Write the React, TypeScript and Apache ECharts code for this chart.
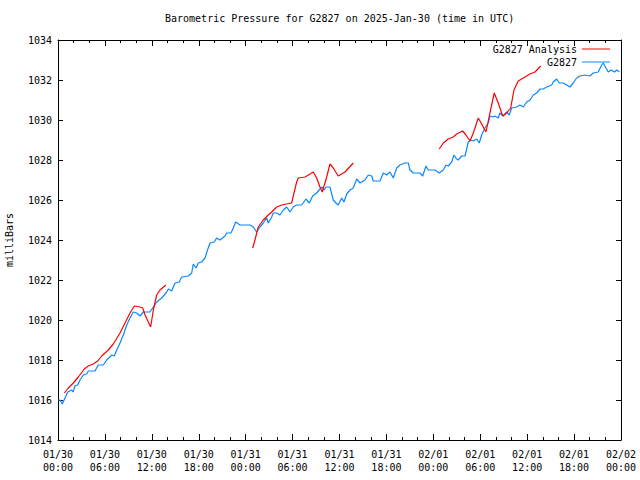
import React, { useEffect, useRef } from "react";
import * as echarts from "echarts";

// hours since 2025-01-30 00:00 UTC
const xTickLabels = [
  "01/30\n00:00", "01/30\n06:00", "01/30\n12:00", "01/30\n18:00",
  "01/31\n00:00", "01/31\n06:00", "01/31\n12:00", "01/31\n18:00",
  "02/01\n00:00", "02/01\n06:00", "02/01\n12:00", "02/01\n18:00",
  "02/02\n00:00",
];

const obsHours = [
  0, 0.26, 0.55, 1.24, 1.75, 1.92, 2.17, 2.52, 2.81, 3.24, 3.67, 3.87, 4.73, 5.15, 5.79, 6.23,
  6.87, 7.2, 7.51, 7.93, 8.35, 8.79, 9.21, 9.63, 10.06, 10.49, 10.91, 11.76, 12.19, 12.62, 13.26,
  13.81, 14.11, 14.54, 14.96, 15.51, 15.82, 16.66, 17.1, 17.3, 17.65, 17.94, 18.38, 18.8, 19.12,
  19.44, 19.99, 20.29, 20.72, 21.36, 21.57, 22.12, 22.42, 22.72, 23.27, 24.55, 24.97, 25.41,
  25.83, 26.25, 26.69, 26.89, 27.33, 27.53, 27.97, 28.39, 28.81, 29.25, 29.67, 30.09, 30.52,
  31.16, 31.71, 32.14, 32.57, 33.08, 33.72, 34.05, 34.27, 34.78, 35.2, 35.55, 35.84, 36.28,
  36.57, 36.92, 37.34, 37.76, 38.2, 38.62, 39.26, 39.68, 40.12, 40.32, 41.18, 41.6, 42.03,
  42.46, 42.88, 43.31, 43.73, 44.37, 44.8, 45.01, 45.44, 46.29, 46.64, 47.06, 47.35, 48.21,
  48.76, 49.27, 49.62, 49.91, 50.35, 50.64, 50.98, 51.19, 51.62, 52.05, 52.47, 52.78, 53.11,
  53.54, 53.87, 54.18, 54.6, 55.03, 55.24, 55.59, 55.88, 56.3, 56.52, 56.94, 57.38, 57.71,
  58.02, 58.66, 59.08, 59.5, 59.93, 60.36, 60.78, 61.21, 61.64, 62.06, 62.49, 63.13, 63.34,
  63.77, 64.1, 64.62, 65.05, 65.47, 65.89, 66.33, 66.75, 67.39, 68.03, 68.45, 69.09, 69.53,
  69.73, 70.08, 70.37, 70.74, 71.16, 71.46, 71.8,
];
const obsValues = [
  1016.0, 1016.0, 1015.8, 1016.4, 1016.5, 1016.4, 1016.7, 1016.75, 1017.0, 1017.25, 1017.3,
  1017.45, 1017.45, 1017.75, 1017.75, 1018.0, 1018.25, 1018.2, 1018.5, 1018.85, 1019.25,
  1019.75, 1020.1, 1020.4, 1020.35, 1020.2, 1020.4, 1020.4, 1020.65, 1020.9, 1021.1, 1021.35,
  1021.55, 1021.45, 1021.85, 1021.9, 1022.15, 1022.2, 1022.35, 1022.8, 1022.6, 1022.85,
  1022.9, 1023.1, 1023.5, 1023.85, 1023.9, 1024.1, 1024.0, 1024.2, 1024.35, 1024.35, 1024.6,
  1024.9, 1024.75, 1024.75, 1024.65, 1024.4, 1024.65, 1024.85, 1025.1, 1024.85, 1025.15,
  1025.35, 1025.35, 1025.25, 1025.5, 1025.65, 1025.4, 1025.65, 1025.75, 1025.75, 1026.05,
  1025.85, 1026.2, 1026.35, 1026.65, 1026.5, 1026.65, 1026.65, 1026.0, 1025.85, 1025.75,
  1026.1, 1025.9, 1026.3, 1026.5, 1026.6, 1027.05, 1026.85, 1027.0, 1027.25, 1027.2, 1026.95,
  1026.95, 1027.35, 1027.25, 1027.4, 1027.1, 1027.6, 1027.75, 1027.85, 1027.85, 1027.5,
  1027.35, 1027.35, 1027.2, 1027.7, 1027.5, 1027.5, 1027.35, 1027.5, 1027.75, 1027.7, 1027.9,
  1028.25, 1028.05, 1028.0, 1028.2, 1028.2, 1028.9, 1029.0, 1028.95, 1029.05, 1028.85,
  1029.25, 1029.6, 1029.85, 1030.2, 1030.15, 1030.2, 1030.1, 1030.35, 1030.2, 1030.4,
  1030.25, 1030.6, 1030.65, 1030.75, 1030.65, 1030.9, 1031.0, 1031.25, 1031.35, 1031.55,
  1031.55, 1031.65, 1031.75, 1031.9, 1032.05, 1031.85, 1031.85, 1031.75, 1031.65, 1031.85,
  1032.1, 1032.2, 1032.25, 1032.2, 1032.35, 1032.4, 1032.75, 1032.85, 1032.6, 1032.4,
  1032.5, 1032.4, 1032.5, 1032.4,
];

const anHours1 = [0.81, 1.32, 1.96, 2.6, 3.36, 3.87, 4.51, 5.08, 5.59, 6.43, 7.07, 7.93, 8.57, 9.21, 9.76, 10.49, 10.83, 11.13, 11.85, 12.19, 12.62, 13.04, 13.81];
const anValues1 = [1016.35, 1016.6, 1016.85, 1017.15, 1017.55, 1017.7, 1017.8, 1017.95, 1018.2, 1018.5, 1018.8, 1019.35, 1019.85, 1020.35, 1020.7, 1020.65, 1020.6, 1020.25, 1019.65, 1020.5, 1021.25, 1021.5, 1021.75];
const anHours2 = [24.9, 25.19, 25.61, 26.25, 26.89, 27.33, 27.97, 28.61, 29.88, 30.52, 30.73, 31.59, 32.23, 32.65, 33.08, 33.5, 33.8, 34.36, 34.78, 35.2, 35.84, 36.7, 37.76];
const anValues2 = [1023.6, 1024.0, 1024.65, 1025.0, 1025.25, 1025.4, 1025.65, 1025.75, 1025.85, 1026.9, 1027.1, 1027.15, 1027.3, 1027.4, 1027.1, 1026.65, 1026.4, 1027.15, 1027.8, 1027.6, 1027.2, 1027.4, 1027.85];
const anHours3 = [48.76, 49.27, 49.91, 50.55, 50.98, 51.75, 52.17, 52.69, 53.11, 53.75, 54.18, 54.73, 55.24, 55.79, 56.3, 56.87, 57.38, 57.89, 58.31, 58.86, 59.5, 60.36, 61.0, 61.73];
const anValues3 = [1028.55, 1028.85, 1029.05, 1029.15, 1029.3, 1029.45, 1029.25, 1028.95, 1029.35, 1030.1, 1029.8, 1029.4, 1030.35, 1031.35, 1030.85, 1030.2, 1030.35, 1030.6, 1031.5, 1031.95, 1032.1, 1032.3, 1032.4, 1032.7];

const RED = "#ff0000";
const BLUE = "#0a88ff";
const FONT = "DejaVu Sans Mono";

const pairs = (xs: number[], ys: number[]) => xs.map((x, i) => [x, ys[i]]);

export default function App() {
  const ref = useRef<HTMLDivElement>(null);
  useEffect(() => {
    if (!ref.current) return;
    const chart = echarts.init(ref.current, undefined, { renderer: "svg" });
    const xCommon = {
      type: "value" as const,
      min: 0,
      max: 72,
      interval: 6,
      axisLine: { show: true, onZero: false, lineStyle: { color: "#000", width: 1 } },
      axisTick: { show: true, inside: true, length: 6, lineStyle: { color: "#000" } },
      minorTick: { show: true, splitNumber: 3, length: 3, lineStyle: { color: "#000" } },
      splitLine: { show: false },
    };
    const yCommon = {
      type: "value" as const,
      min: 1014,
      max: 1034,
      interval: 2,
      axisLine: { show: true, onZero: false, lineStyle: { color: "#000", width: 1 } },
      axisTick: { show: true, inside: true, length: 5, lineStyle: { color: "#000" } },
      splitLine: { show: false },
    };
    const lineWidth = 1.2;
    const anSeries = [
      pairs(anHours1, anValues1),
      pairs(anHours2, anValues2),
      pairs(anHours3, anValues3),
    ].map((d) => ({
      name: "G2827 Analysis",
      type: "line" as const,
      data: d,
      symbol: "none",
      showSymbol: false,
      lineStyle: { color: RED, width: lineWidth },
      itemStyle: { color: RED },
      z: 3,
    }));
    const legendCommon = {
      orient: "vertical" as const,
      right: 30,
      padding: 0,
      align: "right" as const,
      icon: "rect",
      itemWidth: 28,
      itemHeight: 1,
      textStyle: { fontFamily: FONT, fontSize: 10, color: "#000" },
    };
    chart.setOption({
      animation: false,
      backgroundColor: "#fff",
      textStyle: { fontFamily: FONT },
      title: {
        text: "Barometric Pressure for G2827 on 2025-Jan-30 (time in UTC)",
        left: 165,
        top: 13,
        padding: 0,
        textStyle: { fontFamily: FONT, fontSize: 10, fontWeight: "normal", color: "#000" },
      },
      legend: [
        { ...legendCommon, data: ["G2827 Analysis"], top: 44 },
        { ...legendCommon, data: ["G2827"], top: 57 },
      ],
      grid: { left: 58, right: 19, top: 40, bottom: 40, containLabel: false, outerBoundsMode: "none" },
      xAxis: [
        {
          ...xCommon,
          position: "bottom",
          axisLabel: {
            show: true,
            margin: 8,
            fontFamily: FONT,
            fontSize: 10,
            color: "#000",
            lineHeight: 13,
            formatter: (v: number) => xTickLabels[Math.round(v / 6)] ?? "",
          },
        },
        { ...xCommon, position: "top", axisLabel: { show: false } },
      ],
      yAxis: [
        {
          ...yCommon,
          position: "left",
          name: "milliBars",
          nameLocation: "middle",
          nameGap: 44,
          nameTextStyle: { fontFamily: FONT, fontSize: 10, color: "#000" },
          axisLabel: {
            show: true,
            margin: 6,
            fontFamily: FONT,
            fontSize: 10,
            color: "#000",
            formatter: (v: number) => String(v),
          },
        },
        { ...yCommon, position: "right", axisLabel: { show: false } },
      ],
      series: [
        ...anSeries,
        {
          name: "G2827",
          type: "line",
          data: pairs(obsHours, obsValues),
          symbol: "none",
          showSymbol: false,
          lineStyle: { color: BLUE, width: lineWidth },
          itemStyle: { color: BLUE },
          z: 2,
        },
      ],
    });
    return () => chart.dispose();
  }, []);
  return <div ref={ref} style={{ width: 640, height: 480, position: "absolute", left: 0, top: 0 }} />;
}
